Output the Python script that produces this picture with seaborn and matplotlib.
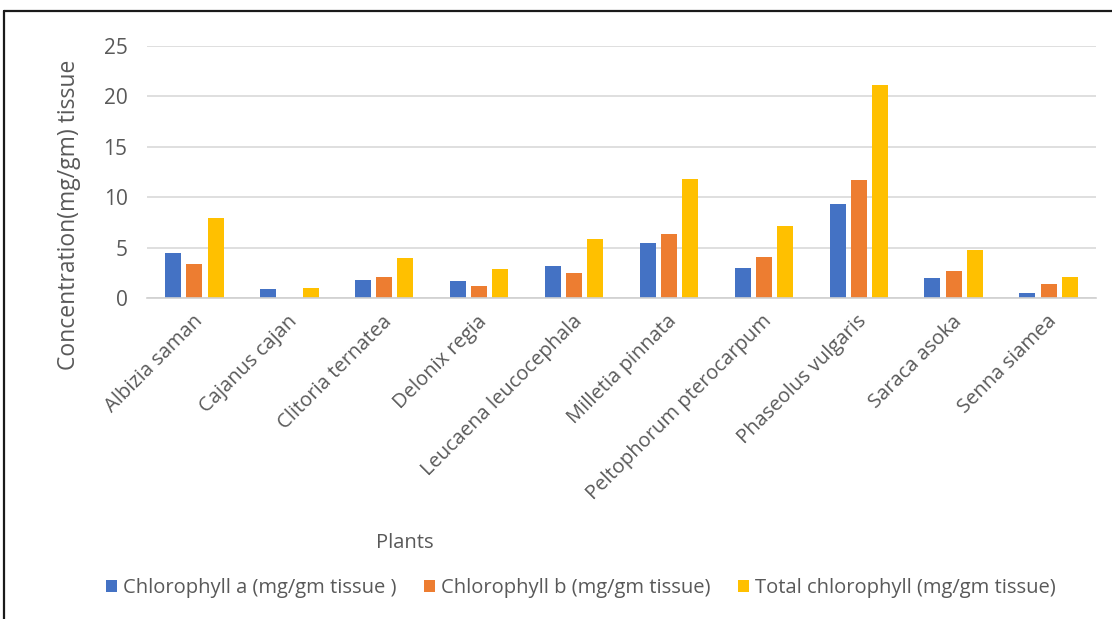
import matplotlib
matplotlib.use("Agg")
import matplotlib.pyplot as plt
import matplotlib.transforms as mtransforms
from matplotlib.lines import Line2D
import pandas as pd
import seaborn as sns

plants = [
    "Albizia saman", "Cajanus cajan", "Clitoria ternatea", "Delonix regia",
    "Leucaena leucocephala", "Milletia pinnata", "Peltophorum pterocarpum",
    "Phaseolus vulgaris", "Saraca asoka", "Senna siamea",
]
series_names = [
    "Chlorophyll a (mg/gm tissue )",
    "Chlorophyll b (mg/gm tissue)",
    "Total chlorophyll (mg/gm tissue)",
]
chl_a = [4.52, 0.92, 1.85, 1.72, 3.24, 5.52, 2.98, 9.36, 1.98, 0.56]
chl_b = [3.37, 0.0, 2.08, 1.19, 2.48, 6.41, 4.10, 11.74, 2.74, 1.45]
chl_total = [7.94, 1.05, 4.00, 2.88, 5.91, 11.87, 7.17, 21.16, 4.79, 2.08]
y_ticks = [0, 5, 10, 15, 20, 25]
colors = ["#4472C4", "#ED7D31", "#FFC000"]

rows = []
for name, vals in zip(series_names, [chl_a, chl_b, chl_total]):
    for plant, v in zip(plants, vals):
        rows.append({"Plant": plant, "Series": name, "Value": v})
df = pd.DataFrame(rows)

sns.set_theme(style="white")
plt.rcParams["font.family"] = ["Open Sans", "DejaVu Sans"]
text_color = "#595959"

fig = plt.figure(figsize=(11.12, 6.19), dpi=100)
ax = fig.add_axes([0.1322, 0.5181, 0.8534, 0.4076])

sns.barplot(
    data=df, x="Plant", y="Value", hue="Series", order=plants,
    hue_order=series_names, palette=colors, width=0.67, gap=0.245,
    saturation=1, linewidth=0, ax=ax, legend=True,
)

ax.set_xlim(-0.5, len(plants) - 0.5)
ax.set_ylim(0, 25)
ax.set_yticks(y_ticks)
ax.yaxis.grid(True, color="#D9D9D9", linewidth=1.2)
ax.set_axisbelow(True)
for side in ["top", "right", "left"]:
    ax.spines[side].set_visible(False)
ax.spines["bottom"].set_color("#D0D0D0")
ax.spines["bottom"].set_linewidth(1.2)
ax.tick_params(axis="both", length=0, colors=text_color)
ax.tick_params(axis="y", pad=14, labelsize=15)
ax.tick_params(axis="x", pad=11)
ax.set_xticks(range(len(plants)))
ax.set_xticklabels(plants, rotation=45, ha="right", va="center",
                   rotation_mode="anchor", fontsize=14.5, color=text_color)
shift = mtransforms.ScaledTranslation(0.05, -0.05, fig.dpi_scale_trans)
for lbl in ax.get_xticklabels():
    lbl.set_transform(lbl.get_transform() + shift)

ax.set_xlabel("")
ax.set_ylabel("Concentration(mg/gm) tissue", fontsize=16.5, color=text_color)
ax.yaxis.set_label_coords(-0.0695, 0.33)

fig.text(0.364, 0.123, "Plants", ha="center", va="center",
         fontsize=14.5, color=text_color)

handles, labels = ax.get_legend_handles_labels()
ax.get_legend().remove()
fig.legend(handles, labels, loc="center", bbox_to_anchor=(0.5225, 0.05),
           ncol=3, frameon=False, fontsize=14.5, labelcolor=text_color,
           handlelength=0.55, handleheight=0.55, handletextpad=0.3,
           columnspacing=1.35)

# outer frame around the chart area
fig.add_artist(Line2D([4 / 1112, 1.0], [1 - 11 / 619, 1 - 11 / 619],
                      transform=fig.transFigure, color="#1a1a1a", linewidth=1.6))
fig.add_artist(Line2D([4 / 1112, 4 / 1112], [0.0, 1 - 11 / 619],
                      transform=fig.transFigure, color="#1a1a1a", linewidth=1.6))

fig.savefig("out.png", dpi=100)
